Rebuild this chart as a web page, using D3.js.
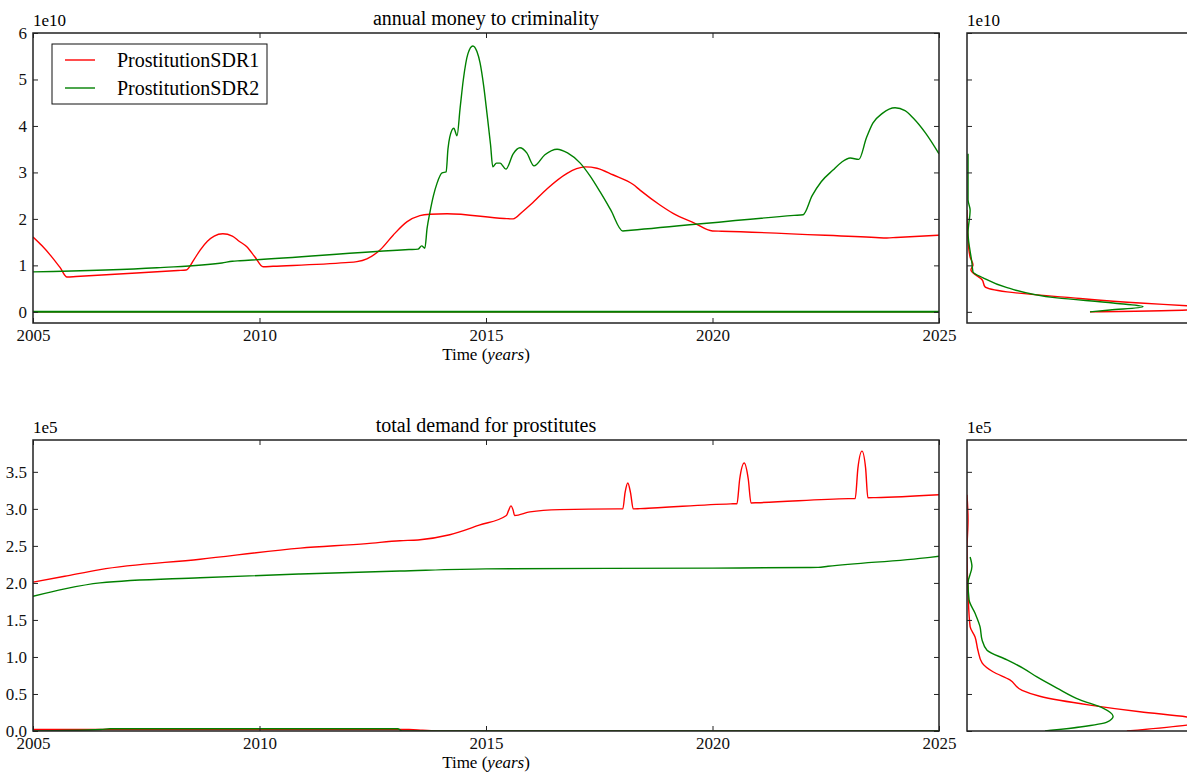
<!DOCTYPE html>
<html>
<head>
<meta charset="utf-8">
<script src="https://cdn.jsdelivr.net/npm/d3@7"></script>
<style>
  body { margin: 0; background: #fff; }
  svg { display: block; font-family: "Liberation Serif", "DejaVu Serif", serif; }
</style>
</head>
<body>
<div id="chart"></div>
<script>
// Years shown on the x axis
const xTicks = [2005, 2010, 2015, 2020, 2025];
const seriesNames = ["ProstitutionSDR1", "ProstitutionSDR2"];
const seriesColors = ["#ff0000", "#008000"];

// annual money to criminality (units of 1e10), [year, value]
const moneySDR1 = [
  [2005.0, 1.61], [2005.2, 1.42], [2005.4, 1.2], [2005.6, 0.95], [2005.75, 0.75],
  [2005.95, 0.76], [2008.2, 0.89], [2008.38, 0.9], [2008.55, 1.12], [2008.69, 1.33],
  [2008.85, 1.52], [2009.0, 1.63], [2009.19, 1.68], [2009.4, 1.63], [2009.55, 1.52],
  [2009.72, 1.4], [2009.9, 1.18], [2010.08, 0.97], [2010.3, 0.98], [2011.9, 1.06],
  [2012.15, 1.08], [2012.37, 1.14], [2012.66, 1.33], [2012.95, 1.65], [2013.26, 1.94],
  [2013.54, 2.07], [2013.76, 2.1], [2014.14, 2.11], [2015.4, 2.01], [2015.6, 2.0],
  [2015.8, 2.15], [2016.0, 2.32], [2016.35, 2.65], [2016.79, 2.98], [2017.0, 3.08],
  [2017.19, 3.12], [2017.45, 3.09], [2017.8, 2.95], [2018.25, 2.74], [2018.4, 2.62],
  [2018.84, 2.3], [2019.13, 2.12], [2019.6, 1.91], [2020.0, 1.74], [2020.2, 1.735],
  [2023.6, 1.6], [2023.85, 1.59], [2024.05, 1.6], [2025.0, 1.65]
];
const moneySDR2 = [
  [2005.0, 0.86], [2007.74, 0.95], [2009.17, 1.05], [2009.4, 1.09], [2009.57, 1.1],
  [2009.75, 1.11], [2013.3, 1.34], [2013.5, 1.35], [2013.58, 1.42], [2013.65, 1.37],
  [2013.7, 1.8], [2013.76, 2.13], [2013.84, 2.5], [2013.92, 2.77], [2014.03, 2.99],
  [2014.12, 3.01], [2014.16, 3.5], [2014.2, 3.76], [2014.29, 3.95], [2014.36, 3.79],
  [2014.43, 4.4], [2014.5, 5.0], [2014.6, 5.55], [2014.71, 5.72], [2014.8, 5.6],
  [2014.87, 5.35], [2014.95, 4.85], [2015.02, 4.28], [2015.1, 3.6], [2015.15, 3.12],
  [2015.23, 3.2], [2015.31, 3.2], [2015.44, 3.07], [2015.6, 3.4], [2015.75, 3.53],
  [2015.9, 3.42], [2016.06, 3.14], [2016.3, 3.38], [2016.57, 3.5], [2016.8, 3.42],
  [2017.08, 3.2], [2017.3, 2.92], [2017.52, 2.58], [2017.75, 2.2], [2018.02, 1.74],
  [2018.2, 1.755], [2021.8, 2.075], [2022.0, 2.09], [2022.2, 2.5], [2022.4, 2.8],
  [2022.66, 3.05], [2022.85, 3.22], [2023.04, 3.31], [2023.23, 3.28], [2023.4, 3.75],
  [2023.54, 4.06], [2023.75, 4.27], [2024.03, 4.39], [2024.25, 4.33], [2024.43, 4.17],
  [2024.7, 3.85], [2025.0, 3.4]
];
const moneyLowSDR1 = [[2005.0, 0.0], [2025.0, 0.0]];
const moneyLowSDR2 = [[2005.0, 0.0], [2025.0, 0.0]];

// total demand for prostitutes (units of 1e5), [year, value]
const demandSDR1 = [
  [2005.0, 2.01], [2005.7, 2.09], [2006.48, 2.18], [2008.69, 2.32], [2010.9, 2.47],
  [2012.37, 2.53], [2013.1, 2.57], [2013.5, 2.58], [2014.2, 2.65], [2014.85, 2.78],
  [2015.45, 2.91], [2015.5, 2.98], [2015.55, 3.04], [2015.6, 2.98], [2015.63, 2.91],
  [2015.97, 2.96], [2016.63, 2.99], [2017.9, 3.0], [2018.02, 3.0], [2018.07, 3.22],
  [2018.13, 3.35], [2018.19, 3.22], [2018.25, 3.0], [2018.4, 3.003], [2020.4, 3.068],
  [2020.54, 3.07], [2020.6, 3.4], [2020.7, 3.62], [2020.79, 3.4], [2020.85, 3.08],
  [2021.0, 3.083], [2023.0, 3.138], [2023.15, 3.14], [2023.21, 3.55], [2023.3, 3.78],
  [2023.38, 3.55], [2023.43, 3.15], [2023.6, 3.152], [2025.0, 3.19]
];
const demandSDR2 = [
  [2005.0, 1.82], [2005.7, 1.92], [2006.48, 2.0], [2008.69, 2.07], [2010.9, 2.12],
  [2013.1, 2.16], [2015.0, 2.19], [2020.0, 2.2], [2022.1, 2.208], [2022.33, 2.21],
  [2022.55, 2.225], [2024.8, 2.345], [2025.0, 2.36]
];
const demandLowSDR1 = [[2005.0, 0.02], [2013.3, 0.02], [2013.6, 0.01], [2014.0, 0.0], [2025.0, 0.0]];
const demandLowSDR2 = [[2005.0, 0.0], [2006.5, 0.02], [2006.7, 0.03], [2013.05, 0.03], [2013.15, 0.0], [2025.0, 0.0]];

// side panels: distribution of values, [value, density]
const moneyDensSDR1 = [
  [0.0, 0.473], [0.04, 0.846], [0.09, 0.95], [0.13, 0.846], [0.19, 0.665], [0.3, 0.408],
  [0.43, 0.154], [0.54, 0.069], [0.69, 0.058], [0.84, 0.023], [0.9, 0.015], [1.01, 0.023],
  [1.18, 0.012], [1.55, 0.004], [2.19, 0.0]
];
const moneyDensSDR2 = [
  [0.0, 0.473], [0.04, 0.55], [0.11, 0.677], [0.19, 0.562], [0.3, 0.346], [0.52, 0.154],
  [0.73, 0.062], [0.86, 0.023], [1.05, 0.019], [1.7, 0.004], [2.19, 0.012], [2.41, 0.004],
  [3.4, 0.004]
];
const demandDensSDR1 = [
  [0.0, 0.615], [0.08, 0.846], [0.135, 0.95], [0.19, 0.846], [0.26, 0.665], [0.35, 0.473],
  [0.47, 0.28], [0.55, 0.212], [0.69, 0.165], [0.8, 0.1], [0.92, 0.058], [1.09, 0.042],
  [1.27, 0.031], [1.41, 0.012], [1.86, 0.004], [2.45, 0.0], [2.85, 0.004], [3.19, 0.0]
];
const demandDensSDR2 = [
  [0.0, 0.3], [0.054, 0.435], [0.12, 0.538], [0.2, 0.562], [0.31, 0.523], [0.42, 0.435],
  [0.58, 0.346], [0.73, 0.269], [0.85, 0.215], [0.96, 0.154], [1.09, 0.077], [1.23, 0.058],
  [1.41, 0.05], [1.59, 0.031], [1.77, 0.008], [2.0, 0.004], [2.22, 0.019], [2.35, 0.012]
];

const W = 1187, H = 774;
const svg = d3.select("#chart").append("svg")
  .attr("width", W)
  .attr("height", H);

const frameColor = "#222";

// x scale shared by both main panels, density scale shared by the side panels
const x = d3.scaleLinear().domain([2005, 2025]).range([33, 939]);
const xd = d3.scaleLinear().domain([0, 1]).range([967, 1227]);

const yTop = d3.scaleLinear().domain([-0.24, 6]).range([323, 33]);
const yBot = d3.scaleLinear().domain([0, 3.93]).range([731, 440]);

function addClip(id, x0, y0, w, h) {
  svg.append("clipPath").attr("id", id)
    .append("rect").attr("x", x0).attr("y", y0).attr("width", w).attr("height", h);
}

function styleAxis(g) {
  g.select(".domain").remove();
  g.selectAll(".tick line").attr("stroke", frameColor);
  g.selectAll("text").attr("fill", "#111").style("font-size", "17px")
    .style("font-family", "'Liberation Serif', serif");
}

function mainPanel(y, yTicks, yFmt, clipId, lines, title, offset) {
  const x0 = x.range()[0], x1 = x.range()[1];
  const yb = y.range()[0], yt = y.range()[1];
  addClip(clipId, x0, yt, x1 - x0, yb - yt);

  const line = d3.line().curve(d3.curveMonotoneX).x(d => x(d[0])).y(d => y(d[1]));
  const g = svg.append("g").attr("clip-path", "url(#" + clipId + ")");
  lines.forEach(l => {
    g.append("path")
      .datum(l.data)
      .attr("fill", "none")
      .attr("stroke", l.color)
      .attr("stroke-width", l.width || 1.4)
      .attr("stroke-linejoin", "round")
      .attr("d", line);
  });

  // axes with inward ticks
  svg.append("g").attr("transform", "translate(0," + yb + ")")
    .call(d3.axisBottom(x).tickValues(xTicks).tickFormat(d3.format("d")).tickSizeInner(-5).tickSizeOuter(0).tickPadding(6))
    .call(styleAxis);
  svg.append("g").attr("transform", "translate(0," + yt + ")")
    .call(d3.axisTop(x).tickValues(xTicks).tickFormat("").tickSizeInner(-5).tickSizeOuter(0))
    .call(styleAxis);
  svg.append("g").attr("transform", "translate(" + x0 + ",0)")
    .call(d3.axisLeft(y).tickValues(yTicks).tickFormat(yFmt).tickSizeInner(-5).tickSizeOuter(0).tickPadding(6))
    .call(styleAxis);
  svg.append("g").attr("transform", "translate(" + x1 + ",0)")
    .call(d3.axisRight(y).tickValues(yTicks).tickFormat("").tickSizeInner(-5).tickSizeOuter(0))
    .call(styleAxis);

  svg.append("rect")
    .attr("x", x0).attr("y", yt).attr("width", x1 - x0).attr("height", yb - yt)
    .attr("fill", "none").attr("stroke", frameColor).attr("stroke-width", 1.5);

  svg.append("text").attr("x", (x0 + x1) / 2).attr("y", yt - 8)
    .attr("text-anchor", "middle").style("font-size", "20px").text(title);
  svg.append("text").attr("x", x0).attr("y", yt - 7)
    .style("font-size", "17px").text(offset);

  const lab = svg.append("text").attr("x", (x0 + x1) / 2).attr("y", yb + 37)
    .attr("text-anchor", "middle").style("font-size", "17px");
  lab.append("tspan").text("Time (");
  lab.append("tspan").style("font-style", "italic").text("years");
  lab.append("tspan").text(")");
}

function sidePanel(y, yTicks, clipId, dens, offset) {
  const x0 = xd.range()[0], x1 = xd.range()[1];
  const yb = y.range()[0], yt = y.range()[1];
  addClip(clipId, x0, yt, x1 - x0, yb - yt);

  const line = d3.line().curve(d3.curveMonotoneY).x(d => xd(d[1])).y(d => y(d[0]));
  const g = svg.append("g").attr("clip-path", "url(#" + clipId + ")");
  dens.forEach((d, i) => {
    g.append("path")
      .datum(d)
      .attr("fill", "none")
      .attr("stroke", seriesColors[i])
      .attr("stroke-width", 1.4)
      .attr("d", line);
  });

  svg.append("g").attr("transform", "translate(" + x0 + ",0)")
    .call(d3.axisLeft(y).tickValues(yTicks).tickFormat("").tickSizeInner(-5).tickSizeOuter(0))
    .call(styleAxis);

  svg.append("rect")
    .attr("x", x0).attr("y", yt).attr("width", x1 - x0).attr("height", yb - yt)
    .attr("fill", "none").attr("stroke", frameColor).attr("stroke-width", 1.5);

  svg.append("text").attr("x", x0).attr("y", yt - 7)
    .style("font-size", "17px").text(offset);
}

// top row
mainPanel(yTop, [0, 1, 2, 3, 4, 5, 6], d3.format("d"), "clipTop", [
  { data: moneyLowSDR1, color: seriesColors[0] },
  { data: moneyLowSDR2, color: seriesColors[1], width: 2 },
  { data: moneySDR1, color: seriesColors[0] },
  { data: moneySDR2, color: seriesColors[1] }
], "annual money to criminality", "1e10");
sidePanel(yTop, [0, 1, 2, 3, 4, 5, 6], "clipTopSide", [moneyDensSDR1, moneyDensSDR2], "1e10");

// bottom row
mainPanel(yBot, [0, 0.5, 1, 1.5, 2, 2.5, 3, 3.5], d3.format(".1f"), "clipBot", [
  { data: demandLowSDR1, color: seriesColors[0] },
  { data: demandLowSDR2, color: seriesColors[1] },
  { data: demandSDR1, color: seriesColors[0] },
  { data: demandSDR2, color: seriesColors[1] }
], "total demand for prostitutes", "1e5");
sidePanel(yBot, [0, 0.5, 1, 1.5, 2, 2.5, 3, 3.5], "clipBotSide", [demandDensSDR1, demandDensSDR2], "1e5");

// legend in the top panel
const legend = svg.append("g").attr("transform", "translate(52,44)");
legend.append("rect")
  .attr("width", 215).attr("height", 60)
  .attr("fill", "#fff").attr("stroke", "#111").attr("stroke-width", 1);
seriesNames.forEach((name, i) => {
  const ly = 16 + i * 28;
  legend.append("line")
    .attr("x1", 13).attr("x2", 43).attr("y1", ly).attr("y2", ly)
    .attr("stroke", seriesColors[i]).attr("stroke-width", 1.4);
  legend.append("text")
    .attr("x", 65).attr("y", ly + 7)
    .style("font-size", "20px").text(name);
});
</script>
</body>
</html>
